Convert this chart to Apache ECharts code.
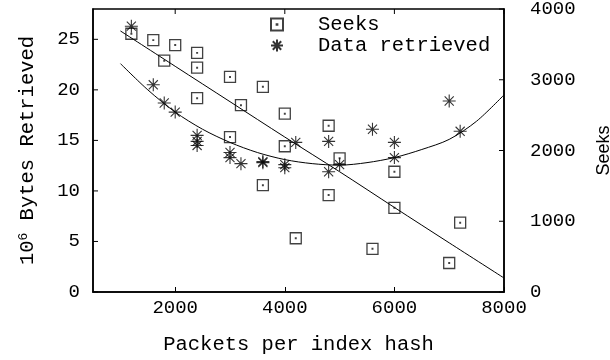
<!DOCTYPE html>
<html>
<head>
<meta charset="utf-8">
<script src="https://cdn.jsdelivr.net/npm/echarts@6/dist/echarts.min.js"></script>
<style>
  html, body { margin: 0; padding: 0; background: #fff; }
  #chart { width: 610px; height: 360px; }
</style>
</head>
<body>
<div id="chart"></div>
<script>
// Axis ranges and tick positions
const xMin = 500, xMax = 8000;
const bytesMax = 28, seekMax = 4000;
const xTicks = [2000, 4000, 6000, 8000];
const bytesTicks = [0, 5, 10, 15, 20, 25];
const seekTicks = [0, 1000, 2000, 3000, 4000];

// Measured seeks per run (right axis)
const seekPackets = [1200, 1600, 2000, 1800, 2400, 2400, 2400, 3000, 3600, 3200, 4000, 3000,
                     4000, 4800, 5000, 4800, 6000, 6000, 7200, 5600, 7000, 4200, 3600];
const seekCounts  = [3650, 3560, 3490, 3270, 3380, 3170, 2740, 3040, 2900, 2640, 2520, 2190,
                     2060, 2350, 1890, 1370, 1700, 1190, 980, 610, 410, 760, 1510];

// Measured data retrieved per run, in 10^6 bytes (left axis)
const bytePackets = [1200, 1600, 1800, 2000, 2400, 2400, 2400, 3000, 3000, 3200, 3600, 3600,
                     4000, 4000, 4200, 4800, 4800, 5000, 5600, 6000, 6000, 7000, 7200];
const byteValues  = [26.3, 20.5, 18.7, 17.8, 15.5, 14.9, 14.5, 13.8, 13.3, 12.7, 12.9, 12.8,
                     12.6, 12.3, 14.8, 14.9, 11.9, 12.6, 16.1, 14.8, 13.3, 18.9, 15.9];

// Fitted trend curves
const seekFitX = [1000, 2000, 3000, 4000, 5000, 6000, 7000, 8000];
const seekFitY = [3690, 3190, 2690, 2190, 1700, 1195, 695, 198];
const byteFitX = [1000, 1500, 2000, 2500, 3000, 3500, 4000, 4500, 5000, 5500, 6000, 6500, 7000, 7500, 8000];
const byteFitY = [22.6, 20.0, 17.8, 16.1, 14.8, 13.8, 13.1, 12.7, 12.55, 12.8, 13.3, 14.1, 15.1, 16.9, 19.5];

const zip = (xs, ys) => xs.map((x, i) => [x, ys[i]]);
const plain = v => String(v);

const MONO = '"Liberation Mono", "DejaVu Sans Mono", monospace';
const INK = '#000';
const TICK = 5;

// Hollow square with a dot in the middle, and an eight-armed asterisk
const squareMark = 'path://M0,0L10,0L10,10L0,10Z M4.7,4.7L5.3,4.7L5.3,5.3L4.7,5.3Z';
const starMark = 'path://M0,5L10,5 M5,0L5,10 M1.5,1.5L8.5,8.5 M8.5,1.5L1.5,8.5';

const axisLine = () => ({ show: true, lineStyle: { color: INK, width: 1.5 } });
const labels = (values, margin) => ({
  show: true, customValues: values, formatter: plain, margin: margin,
  color: INK, fontFamily: MONO, fontSize: 19
});

// Inward tick marks on the top, left and right frame edges, placed through the axes' scales
const tickSeries = (yAxisIndex, data, dx, dy) => ({
  type: 'custom', xAxisIndex: 0, yAxisIndex: yAxisIndex, silent: true, clip: false,
  data: data,
  renderItem: (params, api) => {
    const p = api.coord([api.value(0), api.value(1)]);
    return {
      type: 'line',
      shape: { x1: p[0], y1: p[1], x2: p[0] + dx, y2: p[1] + dy },
      style: { stroke: INK, lineWidth: 1 }
    };
  }
});

const chart = echarts.init(document.getElementById('chart'), null, { renderer: 'canvas' });

chart.setOption({
  animation: false,
  backgroundColor: '#fff',
  grid: {
    left: 93, right: 106, top: 9, bottom: 68,
    outerBoundsMode: 'none', containLabel: false,
    show: true, borderColor: INK, borderWidth: 1.5, backgroundColor: 'transparent'
  },
  legend: {
    data: ['Seeks', 'Data retrieved'],
    orient: 'vertical',
    left: 270, top: 14, padding: 0,
    itemWidth: 12, itemHeight: 12, itemGap: 0,
    selectedMode: false,
    textStyle: { fontFamily: MONO, fontSize: 20.5, color: INK, padding: [0, 0, 0, 30] }
  },
  xAxis: [{
    type: 'value', min: xMin, max: xMax, position: 'bottom',
    axisLine: axisLine(),
    axisTick: { show: true, inside: true, length: TICK, customValues: xTicks, lineStyle: { color: INK, width: 1 } },
    axisLabel: labels(xTicks, 6),
    splitLine: { show: false },
    name: 'Packets per index hash', nameLocation: 'middle', nameGap: 42,
    nameTextStyle: { fontFamily: MONO, fontSize: 20.5, color: INK }
  }],
  yAxis: [{
    type: 'value', min: 0, max: bytesMax, position: 'left',
    axisLine: axisLine(),
    axisTick: { show: false },
    axisLabel: labels(bytesTicks, 13),
    splitLine: { show: false },
    name: '10{sup|6} Bytes Retrieved', nameLocation: 'middle', nameGap: 55, nameRotate: 90,
    nameTextStyle: {
      fontFamily: MONO, fontSize: 20.5, color: INK,
      rich: { sup: { fontFamily: MONO, fontSize: 13, color: INK, verticalAlign: 'top' } }
    }
  }, {
    type: 'value', min: 0, max: seekMax, position: 'right',
    axisLine: axisLine(),
    axisTick: { show: false },
    axisLabel: labels(seekTicks, 26),
    splitLine: { show: false },
    name: 'Seeks', nameLocation: 'middle', nameGap: 91, nameRotate: 90,
    nameTextStyle: { fontFamily: '"Liberation Sans", Arial, sans-serif', fontSize: 18, color: INK }
  }],
  series: [{
    name: 'Seeks', type: 'scatter', xAxisIndex: 0, yAxisIndex: 1,
    data: zip(seekPackets, seekCounts),
    symbol: squareMark, symbolSize: 11,
    itemStyle: { color: 'transparent', borderColor: '#111', borderWidth: 1.3 },
    emphasis: { disabled: true }
  }, {
    name: 'Data retrieved', type: 'scatter', xAxisIndex: 0, yAxisIndex: 0,
    data: zip(bytePackets, byteValues),
    symbol: starMark, symbolSize: 13,
    itemStyle: { color: 'transparent', borderColor: INK, borderWidth: 1.1 },
    emphasis: { disabled: true }
  }, {
    name: 'Seeks fit', type: 'line', xAxisIndex: 0, yAxisIndex: 1,
    data: zip(seekFitX, seekFitY),
    showSymbol: false, smooth: 0.3,
    lineStyle: { color: INK, width: 1 },
    emphasis: { disabled: true }
  }, {
    name: 'Data fit', type: 'line', xAxisIndex: 0, yAxisIndex: 0,
    data: zip(byteFitX, byteFitY),
    showSymbol: false, smooth: 0.3,
    lineStyle: { color: INK, width: 1 },
    emphasis: { disabled: true }
  },
  tickSeries(0, xTicks.map(v => [v, bytesMax]), 0, TICK),
  tickSeries(0, bytesTicks.map(v => [xMin, v]), TICK, 0),
  tickSeries(1, seekTicks.map(v => [xMax, v]), -TICK, 0)]
});
</script>
</body>
</html>
